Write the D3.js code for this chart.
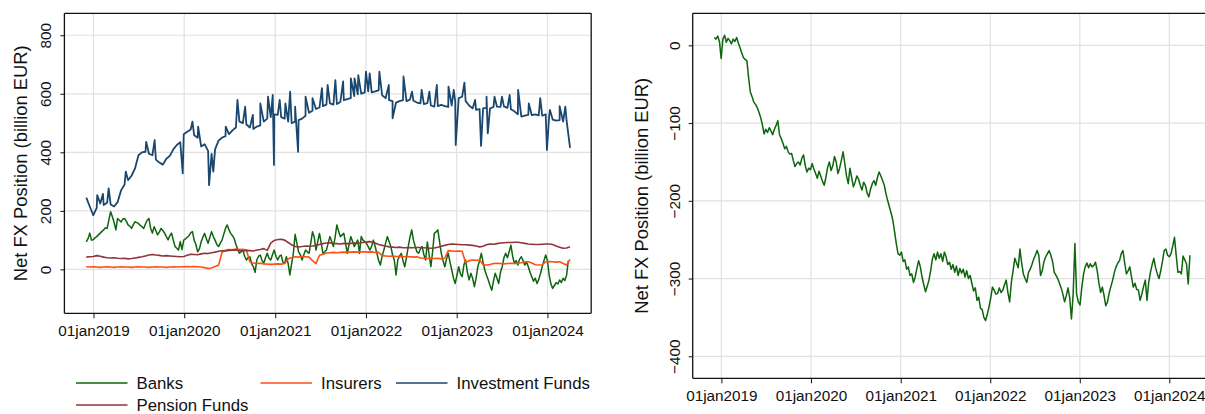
<!DOCTYPE html>
<html><head><meta charset="utf-8">
<script src="https://cdn.jsdelivr.net/npm/d3@7"></script>
<style>
html,body{margin:0;padding:0;background:#fff;}
svg{display:block;font-family:"Liberation Sans",Arial,Helvetica,sans-serif;}
</style></head><body>
<svg id="chart" width="1205" height="414"></svg>
<script>
// ---------------- DATA ----------------
const weeklyStart = "2018-12-03";   // weekly observations (Banks, right panel)
const biweeklyStart = "2018-12-03"; // two-weekly observations (Insurers, IF, Pension)
const xTickDates = ["2019-01-01","2020-01-01","2021-01-01","2022-01-01","2023-01-01","2024-01-01"];
const leftYTicks = [0, 200, 400, 600, 800];
const rightYTicks = [0, -100, -200, -300, -400];
const seriesNames = ["Banks", "Insurers", "Investment Funds", "Pension Funds"];

const banks = [
  94,105,124,100,
  101,108,112,118,124,130,135,142,140,169,197,180,160,135,174,168,162,172,174,165,152,148,140,152,163,160,157,150,146,140,155,168,174,140,124,146,132,118,128,140,133,124,112,101,115,124,100,78,72,66,95,68,
  100,104,110,115,125,129,100,85,60,70,94,110,123,105,89,110,129,112,100,85,78,90,100,120,140,152,135,123,115,105,85,70,55,60,66,45,32,40,43,20,9,-10,32,45,49,30,21,40,55,38,32,50,
  66,45,32,45,49,25,21,43,20,-19,20,55,120,90,60,50,32,50,66,60,55,90,129,110,66,95,123,90,55,60,66,90,112,95,78,110,152,130,112,118,123,90,55,85,112,95,78,90,100,55,112,100,
  95,89,78,66,80,100,78,55,30,15,45,66,90,112,95,78,50,32,-19,32,45,55,30,9,40,78,110,135,100,78,60,55,70,78,50,32,94,50,9,60,123,128,135,95,55,30,9,35,55,25,-2,-30,
  -48,-20,9,-15,-25,15,32,-10,-36,-13,-30,-59,-30,9,30,55,25,-2,-20,-36,-55,-71,-40,-13,-30,-48,-10,9,40,55,40,60,83,45,20,30,15,35,43,30,15,25,9,-10,-25,-40,-30,-48,-35,-14,10,30,
  49,30,-20,-50,-65,-55,-45,-50,-36,-45,-30,-38,-20,30
];

const insurers = [
  9,8,
  9,8,7,8,9,8,7,8,9,8,8,7,8,9,8,8,7,8,9,8,8,7,8,9,8,9,
  9,10,9,10,9,8,6,3,5,10,14,58,66,68,67,70,68,69,66,26,22,20,21,19,18,17,
  18,19,18,20,36,40,43,42,44,43,42,30,20,48,52,56,57,58,57,58,59,58,59,60,59,60,
  60,59,60,58,58,47,46,45,46,44,45,43,44,43,42,43,39,38,37,38,37,38,36,38,64,63,
  62,63,62,22,30,32,31,32,17,15,17,20,21,20,19,20,21,20,21,23,26,26,22,16,15,16,
  26,27,26,25,26,20,15,34
];

const investmentFunds = [
  245,215,
  185,210,225,220,228,222,215,230,270,290,305,320,345,390,400,402,395,390,375,365,358,378,388,410,425,435,
  462,470,478,458,450,420,428,405,395,410,440,450,455,462,475,485,505,500,495,485,480,488,492,505,515,520,
  530,528,520,515,505,500,505,510,515,525,535,542,548,553,558,563,567,563,565,572,578,582,585,592,598,600,
  605,608,605,608,612,595,585,578,575,570,575,578,575,580,576,570,567,565,568,560,556,558,562,558,555,560,
  575,585,590,575,560,550,545,548,550,552,550,555,556,555,557,552,547,540,530,522,525,528,527,530,526,525,
  530,525,512,508,510,505,508,415
];

// short-lived month-end spikes of the Investment Funds series
const ifSpikeDates = [
  "2019-01-16","2019-02-08","2019-03-03","2019-05-11","2019-08-01","2019-09-04","2019-12-26",
  "2020-02-03","2020-02-26","2020-04-10","2020-04-27","2020-06-16","2020-08-02","2020-09-02","2020-10-03","2020-11-02","2020-12-03","2020-12-22","2020-12-27",
  "2021-01-19","2021-02-11","2021-03-02","2021-03-22","2021-04-03","2021-05-03","2021-05-31","2021-07-08","2021-07-31","2021-08-31","2021-10-01","2021-11-01","2021-11-16","2021-12-01",
  "2022-01-01","2022-01-16","2022-02-24","2022-04-03","2022-04-18","2022-06-01","2022-07-05","2022-08-13","2022-09-13","2022-10-13","2022-11-29","2022-12-20","2022-12-28",
  "2023-02-01","2023-03-16","2023-04-09","2023-05-01","2023-05-06","2023-06-02","2023-07-02","2023-08-02","2023-09-05","2023-10-18","2023-12-03","2023-12-30",
  "2024-01-11","2024-02-19","2024-03-13"
];
const ifSpikeValues = [
  254,258,277,334,436,442,328,
  505,488,288,334,488,579,556,528,567,590,596,357,
  579,567,607,556,402,590,585,619,630,647,642,653,653,664,
  676,670,676,630,516,659,607,613,607,630,624,613,425,
  638,579,422,590,465,590,590,596,613,567,585,408,
  545,558,556
];

const pensionFunds = [
  42,43,
  44,47,45,42,40,39,40,38,37,38,36,37,39,41,43,46,49,51,49,48,46,47,46,45,44,43,
  44,48,52,51,50,53,55,54,57,59,62,64,63,65,66,66,64,63,65,64,63,66,68,71,65,90,
  99,102,103,100,92,84,78,77,78,80,79,80,82,85,88,90,91,89,88,87,89,88,89,90,89,91,
  93,95,94,90,85,82,80,77,76,75,76,74,74,75,74,75,75,74,73,72,73,76,79,82,85,87,
  86,85,84,84,83,82,80,77,79,84,87,86,88,90,91,92,92,93,93,91,89,87,86,85,85,86,
  87,87,85,80,76,72,73,77
];

const rightPanel = [
  10,8,12,5,
  -17,8,13,4,9,6,2,8,5,10,3,-3,-10,-16,-18,-20,-42,-60,-66,-73,-76,-80,-86,-93,-102,-114,-108,-112,-106,-110,-115,-108,-103,-97,-115,-120,-126,-133,-130,-137,-140,-139,-148,-156,-152,-150,-154,-145,-141,-155,-163,-158,
  -160,-152,-159,-165,-171,-162,-168,-175,-180,-170,-157,-150,-161,-155,-143,-150,-165,-158,-148,-137,-152,-168,-178,-158,-170,-182,-176,-168,-172,-180,-186,-176,-180,-190,-195,-185,-178,-174,-180,-170,-163,-168,-174,-180,-191,-200,-208,-216,-225,-240,-255,-268,
  -270,-266,-278,-276,-288,-285,-296,-294,-305,-298,-287,-277,-285,-298,-308,-317,-310,-302,-290,-275,-268,-276,-266,-274,-268,-278,-266,-272,-282,-279,-288,-282,-292,-284,-296,-287,-293,-288,-298,-290,-300,-296,-306,-316,-312,-328,-324,-338,-340,-350,-354,-346,
  -336,-325,-311,-315,-320,-319,-312,-318,-315,-308,-302,-318,-330,-305,-290,-274,-280,-286,-262,-280,-294,-300,-305,-292,-288,-282,-275,-270,-264,-270,-296,-290,-278,-272,-268,-264,-270,-278,-292,-296,-300,-306,-312,-320,-330,-322,-312,-325,-352,-320,-255,-320,
  -330,-334,-312,-295,-285,-280,-286,-281,-285,-283,-279,-290,-306,-318,-311,-322,-335,-330,-318,-310,-302,-292,-285,-280,-277,-268,-264,-280,-294,-290,-285,-298,-311,-306,-314,-315,-328,-320,-310,-302,-328,-305,-292,-282,-274,-286,-294,-300,-290,-278,-264,-262,
  -270,-272,-268,-258,-247,-270,-292,-291,-294,-271,-276,-281,-307,-270
];

// ---------------- CHART ----------------
const parse = d3.timeParse("%Y-%m-%d");
const colors = {banks:"#0d650d", insurers:"#ff4f14", inv:"#1a476f", pension:"#90353b"};
const toSeries = (arr, start, stepDays) => arr.map((v,i)=>({date:d3.timeDay.offset(parse(start), stepDays*i), value:v}));

const banksS = toSeries(banks, weeklyStart, 7);
const rightS = toSeries(rightPanel, weeklyStart, 7);
const insS = toSeries(insurers, biweeklyStart, 14);
const penS = toSeries(pensionFunds, biweeklyStart, 14);
const invS = toSeries(investmentFunds, biweeklyStart, 14)
  .concat(ifSpikeDates.map((d,i)=>({date:parse(d), value:ifSpikeValues[i]})))
  .sort((a,b)=>a.date-b.date);

const svg = d3.select("#chart");
const xDomain = [parse("2018-09-06"), parse("2024-06-25")];
const ticks = xTickDates.map(parse);
const fmt = d => d3.timeFormat("%d%b%Y")(d).toLowerCase();
const gridColor = "#e1e1e1";

function panel(cfg){
  const x = d3.scaleTime().domain(xDomain).range([cfg.x0, cfg.x1]);
  const y = d3.scaleLinear().domain(cfg.dom).range([cfg.y1, cfg.y0]);
  const g = svg.append("g");
  // grid
  g.append("g").selectAll("line.h").data(cfg.yTicks).join("line")
    .attr("x1", cfg.x0).attr("x2", cfg.x1).attr("y1", d=>y(d)).attr("y2", d=>y(d))
    .attr("stroke", gridColor).attr("stroke-width", 1.2);
  g.append("g").selectAll("line.v").data(ticks).join("line")
    .attr("x1", d=>x(d)).attr("x2", d=>x(d)).attr("y1", cfg.y0).attr("y2", cfg.y1)
    .attr("stroke", gridColor).attr("stroke-width", 1.2);
  // series
  const line = d3.line().x(d=>x(d.date)).y(d=>y(d.value));
  cfg.series.forEach(s=>{
    g.append("path").datum(s.data).attr("d", line).attr("fill","none")
      .attr("stroke", s.color).attr("stroke-width", s.width || 1.5).attr("stroke-linejoin","round");
  });
  // frame
  const fr = g.append("g").attr("stroke","#111").attr("stroke-width",1.3).attr("fill","none");
  fr.append("line").attr("x1",cfg.x0).attr("x2",cfg.x0).attr("y1",cfg.y0).attr("y2",cfg.y1);
  fr.append("line").attr("x1",cfg.x0).attr("x2",cfg.x1).attr("y1",cfg.y1).attr("y2",cfg.y1);
  fr.append("line").attr("x1",cfg.x0).attr("x2",cfg.x1).attr("y1",cfg.y0).attr("y2",cfg.y0);
  if (cfg.rightFrame) fr.append("line").attr("x1",cfg.x1).attr("x2",cfg.x1).attr("y1",cfg.y0).attr("y2",cfg.y1);
  // x axis
  const xa = g.append("g").attr("transform",`translate(0,${cfg.y1})`)
    .call(d3.axisBottom(x).tickValues(ticks).tickFormat(fmt).tickSize(5).tickPadding(7).tickSizeOuter(0));
  xa.select(".domain").remove();
  xa.selectAll("line").attr("stroke","#111");
  xa.selectAll("text").attr("font-size","15.3px").attr("fill","#111").attr("font-family",null);
  // y axis
  const ya = g.append("g").attr("transform",`translate(${cfg.x0},0)`)
    .call(d3.axisLeft(y).tickValues(cfg.yTicks).tickSize(4).tickSizeOuter(0));
  ya.select(".domain").remove();
  ya.selectAll("line").attr("stroke","#111");
  ya.selectAll("text").attr("x",0).attr("dy",0).attr("text-anchor","middle")
    .attr("transform","translate(-13,0) rotate(-90)")
    .attr("font-size","15.3px").attr("fill","#111").attr("font-family",null);
  // title
  g.append("text").attr("transform",`translate(${cfg.titleX},${(cfg.y0+cfg.y1)/2}) rotate(-90)`)
    .attr("text-anchor","middle").attr("font-size","18.4px").attr("fill","#111")
    .text("Net FX Position (billion EUR)");
}

panel({x0:64.4, x1:591.2, y0:13.3, y1:313.3, dom:[-150,875], yTicks:leftYTicks, titleX:26.5, rightFrame:true,
  series:[
    {data:banksS, color:colors.banks, width:1.5},
    {data:insS, color:colors.insurers, width:1.6},
    {data:invS, color:colors.inv, width:1.8},
    {data:penS, color:colors.pension, width:1.6}
  ]});

panel({x0:692.7, x1:1212.5, y0:13.3, y1:378.3, dom:[-428.3,41.2], yTicks:rightYTicks, titleX:647.5, rightFrame:false,
  series:[{data:rightS, color:colors.banks, width:1.5}]});

// legend
const legendItems = [
  {name:seriesNames[0], color:colors.banks, x:76, y:383},
  {name:seriesNames[1], color:colors.insurers, x:260.5, y:383},
  {name:seriesNames[2], color:colors.inv, x:396, y:383},
  {name:seriesNames[3], color:colors.pension, x:76, y:405}
];
const lg = svg.append("g").selectAll("g").data(legendItems).join("g")
  .attr("transform", d=>`translate(${d.x},${d.y})`);
lg.append("line").attr("x1",0).attr("x2",51.5).attr("y1",0).attr("y2",0)
  .attr("stroke", d=>d.color).attr("stroke-width",1.5);
lg.append("text").attr("x",60.5).attr("y",6).attr("font-size","16.8px").attr("fill","#111").text(d=>d.name);
</script>
</body></html>
